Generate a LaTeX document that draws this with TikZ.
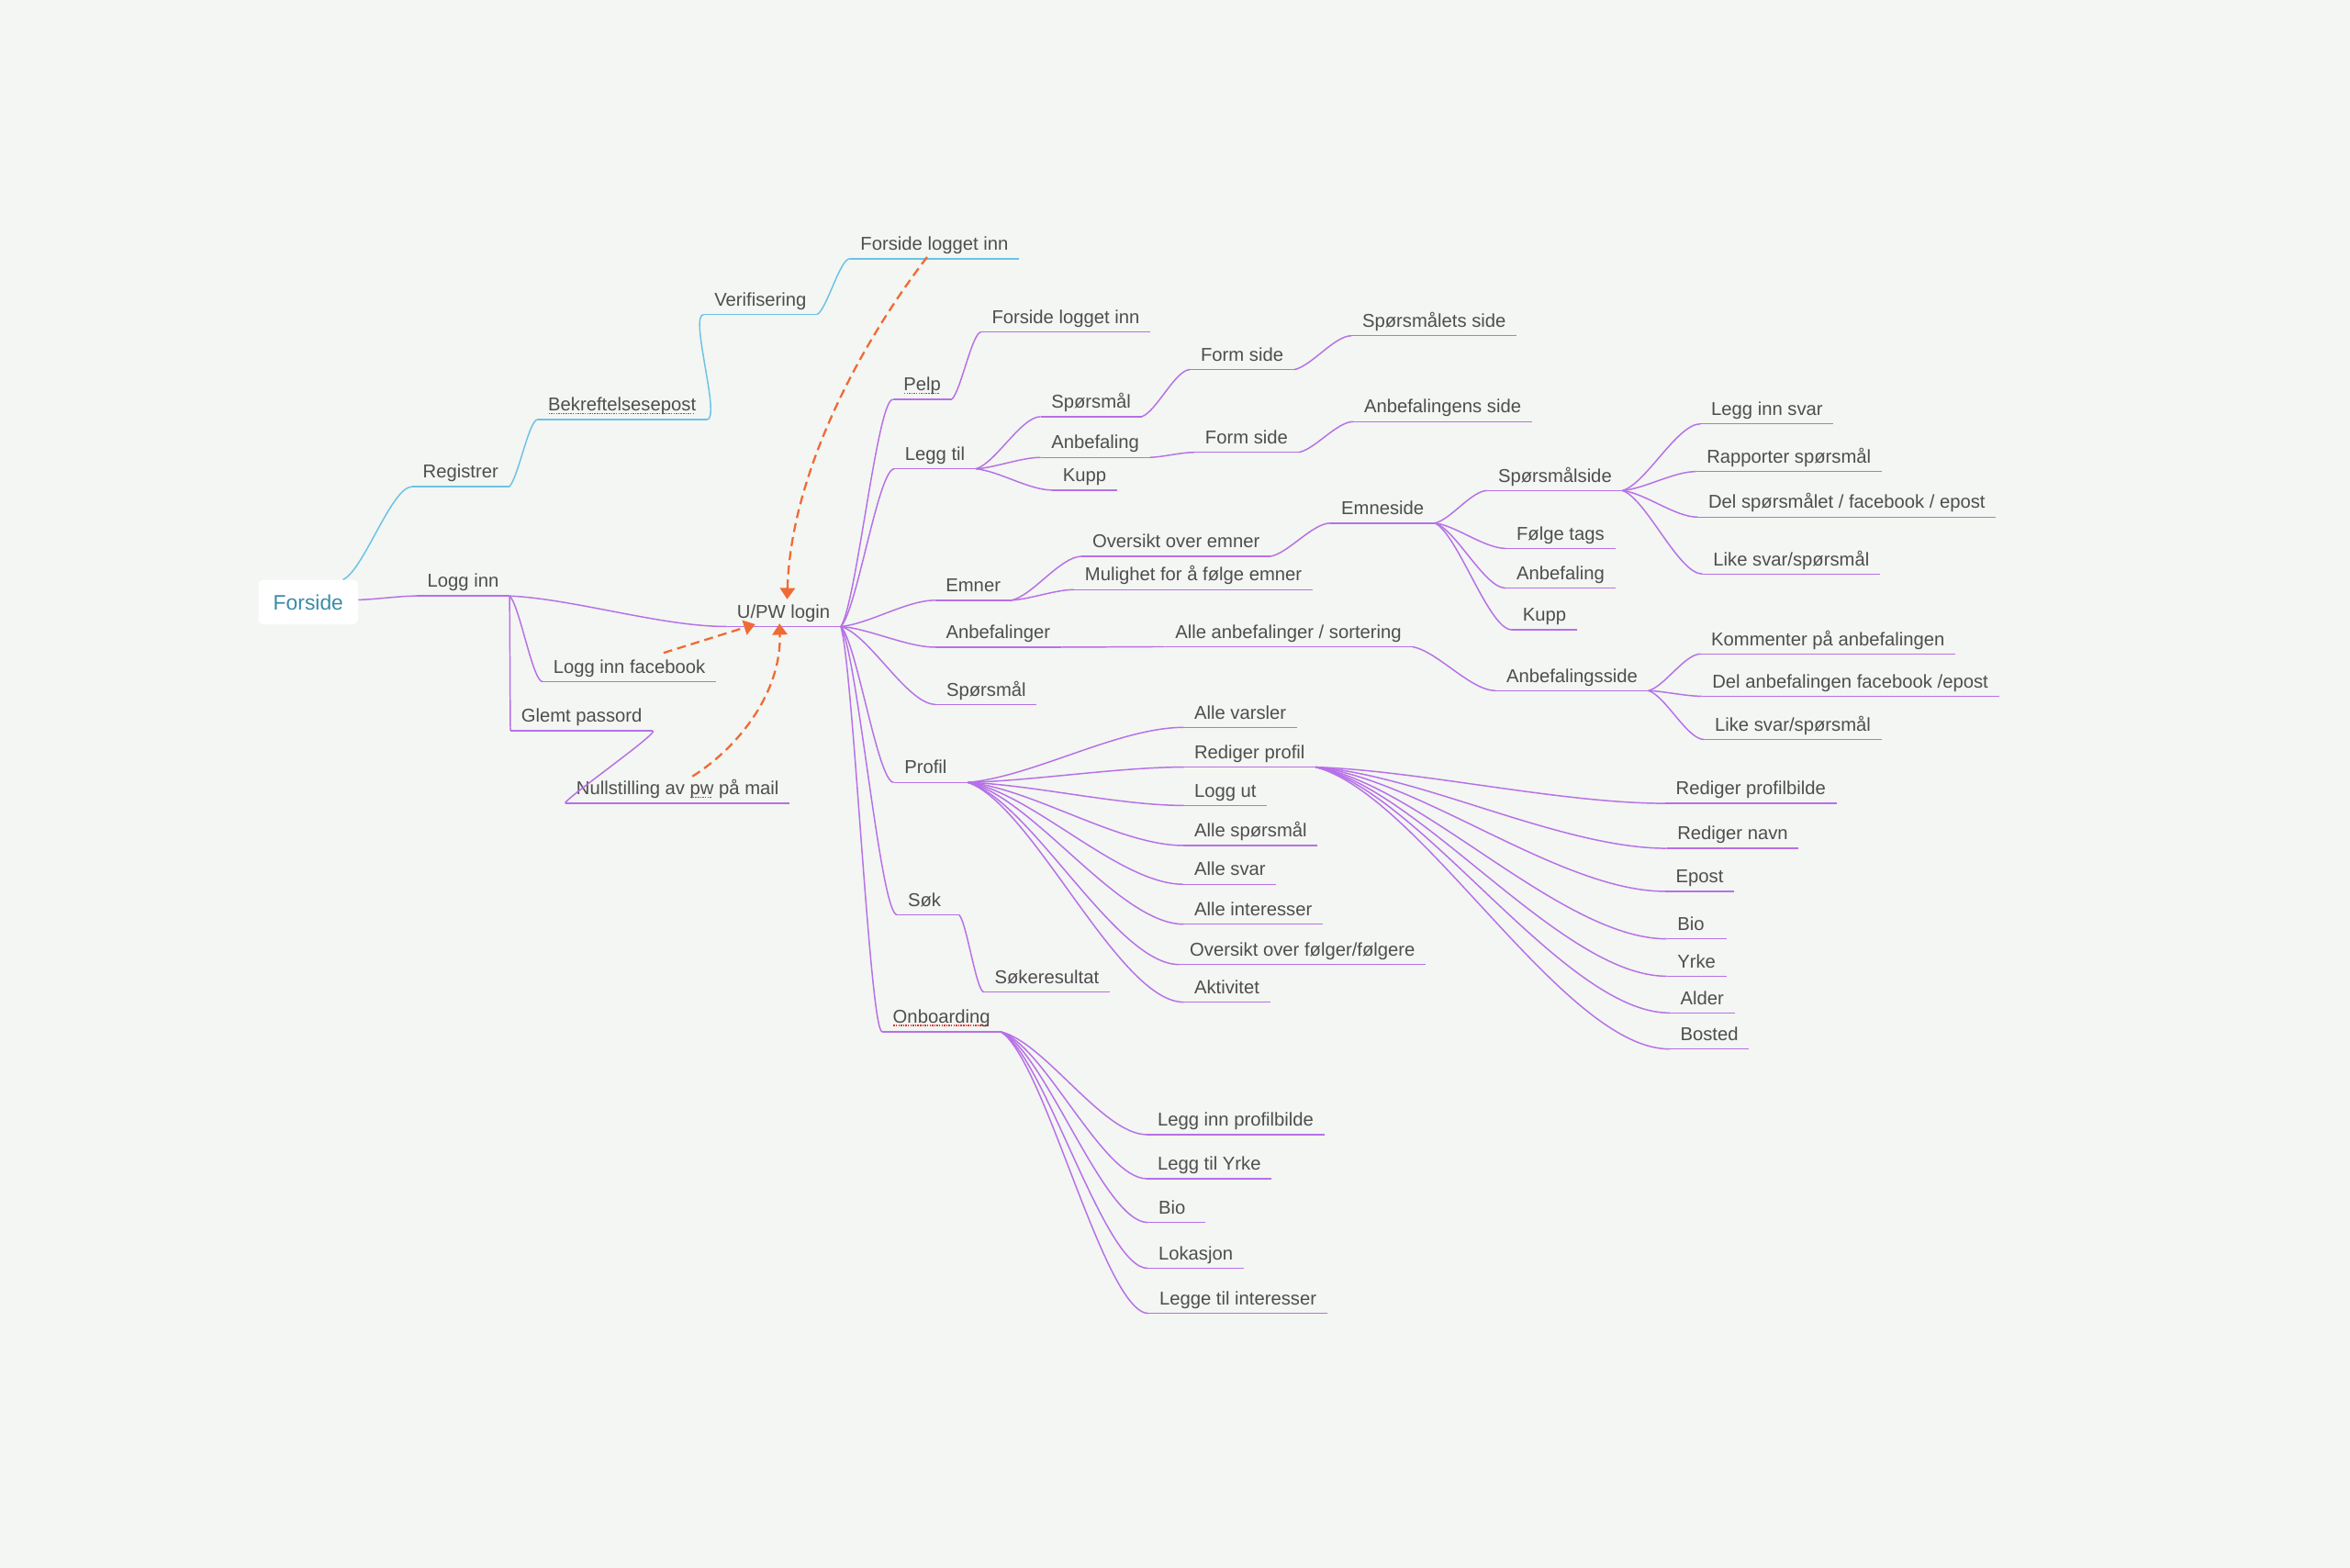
\documentclass[tikz,border=0pt]{standalone}
\usepackage{fontspec}
\setmainfont{Liberation Sans}
\usetikzlibrary{calc,arrows.meta}
\definecolor{bg}{RGB}{243,246,242}
\definecolor{txt}{RGB}{78,78,78}
\definecolor{lnk}{RGB}{183,112,232}
\definecolor{blu}{RGB}{108,194,230}
\definecolor{org}{RGB}{240,106,53}
\definecolor{teal}{RGB}{58,140,166}
\definecolor{spellred}{RGB}{224,48,48}
\newcommand{\fs}{\fontsize{12.4}{14}\selectfont}
\newcommand{\spellmark}[1]{\setbox0=\hbox{#1}\rlap{\raisebox{-2pt}{\color{spellred}\leaders\hbox to 1.6pt{\hss\rule{0.9pt}{0.9pt}\hss}\hskip\wd0}}#1}
\tikzset{
  topic/.style={anchor=south west, inner xsep=7pt, inner ysep=2.5pt, text height=9pt, text depth=3pt, font=\fs, text=txt},
  link/.style={draw=lnk, line width=0.9pt},
  blink/.style={draw=blu, line width=0.9pt},
  dasharrow/.style={draw=org, line width=1.4pt, dash pattern=on 6pt off 3.5pt, -{Triangle[length=7.5pt,width=10pt]}},
}
\newcommand{\topic}[5][]{\node[topic,#1] (#2) at (#3,#4) {#5};\draw[link] (#2.south west) -- (#2.south east);}
\newcommand{\btopic}[5][]{\node[topic,#1] (#2) at (#3,#4) {#5};\draw[blink] (#2.south west) -- (#2.south east);}
\newcommand{\conn}[3][link]{\draw[#1] let \p1=#2, \p2=#3 in (\p1) .. controls ({\x1+0.3*(\x2-\x1)},{\y1+0.1*(\y2-\y1)}) and ({\x2-0.3*(\x2-\x1)},\y2) .. (\p2);}
\begin{document}
\begin{tikzpicture}[x=1pt,y=-1pt]
\useasboundingbox (0,0) rectangle (1568,1046);
\fill[bg] (0,0) rectangle (1568,1046);

% root
\node[fill=white, rounded corners=3pt, minimum width=66.4pt, minimum height=29.6pt, inner sep=0pt, text=teal, font=\fontsize{14}{16}\selectfont] (forside) at (205.7,401.7) {Forside};

% blue branch
\btopic{registrer}{275}{324.7}{Registrer}
\btopic{bekreft}{358.6}{280}{\spellmark{Bekreftelsesepost}}
\btopic{verif}{469.5}{209.8}{Verifisering}
\btopic{forsideTop}{567}{172.6}{Forside logget inn}

% login branch
\topic{logginn}{278}{397.6}{Logg inn}
\topic{upw}{484.6}{418}{U/PW login}
\topic{fb}{362}{454.8}{Logg inn facebook}
\topic{glemt}{340.6}{487.5}{Glemt passord}
\topic{null}{377.4}{536}{Nullstilling av \spellmark{pw} på mail}

% U/PW children
\topic{pelp}{595.7}{266.5}{\spellmark{Pelp}}
\topic{fli}{654.6}{221.5}{Forside logget inn}
\topic{leggtil}{596.7}{312.8}{Legg til}
\topic{ltsp}{694.3}{278}{Spørsmål}
\topic{ltfsa}{794}{246.6}{Form side}
\topic{ltsps}{901.8}{224}{Spørsmålets side}
\topic{ltanb}{694.3}{305.2}{Anbefaling}
\topic{ltfsb}{797}{301.8}{Form side}
\topic{ltanbs}{903}{281.3}{Anbefalingens side}
\topic{ltkupp}{702}{327}{Kupp}
\topic{emner}{623.9}{400.5}{Emner}
\topic{ovemner}{721.7}{371.2}{Oversikt over emner}
\topic{mul}{716.7}{393.4}{Mulighet for å følge emner}
\topic{emneside}{887.8}{349}{Emneside}
\topic{spside}{992.4}{327.3}{Spørsmålside}
\topic{folge}{1004.7}{365.9}{Følge tags}
\topic{esanb}{1004.7}{392.4}{Anbefaling}
\topic{eskupp}{1008.8}{420.2}{Kupp}
\topic{legginn}{1134.6}{282.8}{Legg inn svar}
\topic{rapp}{1131.6}{314.6}{Rapporter spørsmål}
\topic{delsp}{1132.7}{345}{Del spørsmålet / facebook / epost}
\topic{likea}{1136}{383}{Like svar/spørsmål}
\topic{anbef}{624}{431.8}{Anbefalinger}
\topic{alleanb}{777}{431.5}{Alle anbefalinger / sortering}
\topic{anbside}{997.9}{460.8}{Anbefalingsside}
\topic{komm}{1134.6}{436.3}{Kommenter på anbefalingen}
\topic{delanb}{1135.3}{464.5}{Del anbefalingen facebook /epost}
\topic{likeb}{1137}{493.4}{Like svar/spørsmål}
\topic{spm}{624.3}{470}{Spørsmål}
\topic[text width=35pt, align=left]{profil}{596.3}{522}{Profil}
\topic{varsler}{789.7}{485.3}{Alle varsler}
\topic{redprof}{789.7}{511.8}{Rediger profil}
\topic{loggut}{789.7}{537.4}{Logg ut}
\topic{allesp}{789.7}{564.1}{Alle spørsmål}
\topic{allesvar}{789.7}{590}{Alle svar}
\topic{alleint}{789.7}{616.6}{Alle interesser}
\topic{oversf}{786.7}{643.5}{Oversikt over følger/følgere}
\topic{aktiv}{789.7}{668.6}{Aktivitet}
\topic{redbilde}{1111}{536}{Rediger profilbilde}
\topic{rednavn}{1112}{566}{Rediger navn}
\topic{epost}{1111}{594.7}{Epost}
\topic[text width=26pt, align=left]{bioa}{1112}{626.4}{Bio}
\topic[text width=26pt, align=left]{yrke}{1112}{651.3}{Yrke}
\topic{alder}{1114}{675.8}{Alder}
\topic{bosted}{1114}{699.9}{Bosted}
\topic[text width=27pt, align=left]{sok}{598.6}{610.4}{Søk}
\topic{sokres}{656.5}{661.9}{Søkeresultat}
\topic{onb}{588.6}{688.4}{\spellmark{Onboarding}}
\topic{oba}{765.2}{757}{Legg inn profilbilde}
\topic{obb}{765.2}{786.4}{Legg til Yrke}
\topic[text width=24pt, align=left]{obc}{765.8}{815.6}{Bio}
\topic{obd}{765.8}{846.2}{Lokasjon}
\topic{obe}{766.4}{876.3}{Legge til interesser}

% blue connectors
\conn[blink]{($(forside.north east)+(-10.2,0)$)}{(registrer.south west)}
\conn[blink]{(registrer.south east)}{(bekreft.south west)}
\draw[blink] (bekreft.south east) .. controls +(10,0) and +(-10,0) .. (verif.south west);
\conn[blink]{(verif.south east)}{(forsideTop.south west)}

% login connectors
\conn{($(forside.east)+(0,-1.5)$)}{(logginn.south west)}
\conn{(logginn.south east)}{(upw.south west)}
\conn{(logginn.south east)}{(fb.south west)}
\conn{(logginn.south east)}{(glemt.south west)}
\draw[link] (glemt.south east) .. controls +(5,1) and +(-5,0) .. (null.south west);

% U/PW children
\foreach \c in {pelp,leggtil,emner,anbef,spm,profil,sok,onb}{\conn{(upw.south east)}{(\c.south west)}}
\conn{(pelp.south east)}{(fli.south west)}
\foreach \c in {ltsp,ltanb,ltkupp}{\conn{(leggtil.south east)}{(\c.south west)}}
\conn{(ltsp.south east)}{(ltfsa.south west)}
\conn{(ltfsa.south east)}{(ltsps.south west)}
\conn{(ltanb.south east)}{(ltfsb.south west)}
\conn{(ltfsb.south east)}{(ltanbs.south west)}
\conn{(emner.south east)}{(ovemner.south west)}
\conn{(emner.south east)}{(mul.south west)}
\conn{(ovemner.south east)}{(emneside.south west)}
\foreach \c in {spside,folge,esanb,eskupp}{\conn{(emneside.south east)}{(\c.south west)}}
\foreach \c in {legginn,rapp,delsp,likea}{\conn{(spside.south east)}{(\c.south west)}}
\conn{(anbef.south east)}{(alleanb.south west)}
\conn{(alleanb.south east)}{(anbside.south west)}
\foreach \c in {komm,delanb,likeb}{\conn{(anbside.south east)}{(\c.south west)}}
\foreach \c in {varsler,redprof,loggut,allesp,allesvar,alleint,oversf,aktiv}{\conn{(profil.south east)}{(\c.south west)}}
\foreach \c in {redbilde,rednavn,epost,bioa,yrke,alder,bosted}{\conn{(redprof.south east)}{(\c.south west)}}
\conn{(sok.south east)}{(sokres.south west)}
\foreach \c in {oba,obb,obc,obd,obe}{\conn{(onb.south east)}{(\c.south west)}}

% orange dashed arrows
\coordinate (sa) at ($(forsideTop.south west)+(51.6,-1.1)$);
\coordinate (ta) at ($(upw.north)+(2.4,-0.8)$);
\draw[dasharrow] (sa) .. controls +(-48.6,63.5) and +(2.3,-80.2) .. (ta);
\coordinate (sb) at ($(fb.north east)+(-35,-1.8)$);
\coordinate (tb) at ($(upw.south west)+(19.3,-1.5)$);
\draw[dasharrow] (sb) -- (tb);
\coordinate (sc) at ($(null.south west)+(84.6,-18)$);
\coordinate (tc) at ($(upw.south)+(-2.7,-2)$);
\draw[dasharrow] (sc) .. controls +(33,-21) and +(1.4,44) .. (tc);
\end{tikzpicture}
\end{document}
